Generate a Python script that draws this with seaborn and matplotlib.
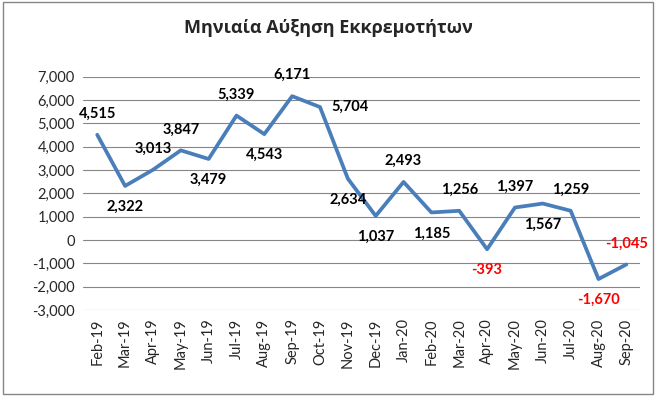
import numpy as np
import pandas as pd
import matplotlib
matplotlib.use("Agg")
import matplotlib.pyplot as plt
import seaborn as sns
from matplotlib.patches import Rectangle
from matplotlib.ticker import FuncFormatter

# --- data ---
months = ["Feb-19", "Mar-19", "Apr-19", "May-19", "Jun-19", "Jul-19", "Aug-19",
          "Sep-19", "Oct-19", "Nov-19", "Dec-19", "Jan-20", "Feb-20", "Mar-20",
          "Apr-20", "May-20", "Jun-20", "Jul-20", "Aug-20", "Sep-20"]
values = [4515, 2322, 3013, 3847, 3479, 5339, 4543, 6171, 5704, 2634,
          1037, 2493, 1185, 1256, -393, 1397, 1567, 1259, -1670, -1045]
# where Excel put each data label
label_pos = ["above", "below", "above", "above", "below", "above", "below",
             "above", "right", "below", "below", "above", "below", "above",
             "below", "above", "below", "above", "below", "above"]

title = "Μηνιαία Αύξηση Εκκρεμοτήτων"

df = pd.DataFrame({"idx": np.arange(len(months)), "month": months, "value": values})

sns.set_style("white")
plt.rcParams["font.family"] = ["Lato", "Noto Sans", "DejaVu Sans"]

fig = plt.figure(figsize=(6.56, 3.96), dpi=100)
ax = fig.add_axes([0.127, 0.217, 0.849, 0.589])

sns.lineplot(data=df, x="idx", y="value", ax=ax, color="#4A7EBB", linewidth=2.7)

ax.set_xlim(-0.5, len(months) - 0.5)
ax.set_ylim(-3000, 7000)
ax.set_yticks(np.arange(-3000, 7001, 1000))
ax.yaxis.set_major_formatter(FuncFormatter(lambda v, p: f"{int(v):,}"))
ax.set_xticks(df["idx"])
ax.set_xticklabels(months, rotation=90)
ax.tick_params(axis="both", labelsize=10.5, length=0, pad=6)
ax.set_xlabel("")
ax.set_ylabel("")
ax.grid(axis="y", color="#868686", linewidth=0.8)
ax.set_axisbelow(True)
for s in ax.spines.values():
    s.set_visible(False)

# data labels
for i, (v, pos) in enumerate(zip(values, label_pos)):
    col = "red" if v < 0 else "black"
    txt = f"{v:,}"
    if pos == "above":
        ax.annotate(txt, (i, v), xytext=(0, 10), textcoords="offset points",
                    ha="center", va="bottom", fontsize=10.5, fontweight="bold", color=col)
    elif pos == "below":
        ax.annotate(txt, (i, v), xytext=(0, -10), textcoords="offset points",
                    ha="center", va="top", fontsize=10.5, fontweight="bold", color=col)
    else:
        ax.annotate(txt, (i, v), xytext=(8, 0), textcoords="offset points",
                    ha="left", va="center", fontsize=10.5, fontweight="bold", color=col)

fig.text(0.5, 0.93, title, ha="center", va="center", fontsize=13, fontweight="bold",
         family=["Open Sans", "Noto Sans", "DejaVu Sans"])

# chart border like the Excel chart area
fig.patches.append(Rectangle((0.004, 0.006), 0.992, 0.988, transform=fig.transFigure,
                             fill=False, edgecolor="#868686", linewidth=1.0))

fig.savefig("out.png", dpi=100)
